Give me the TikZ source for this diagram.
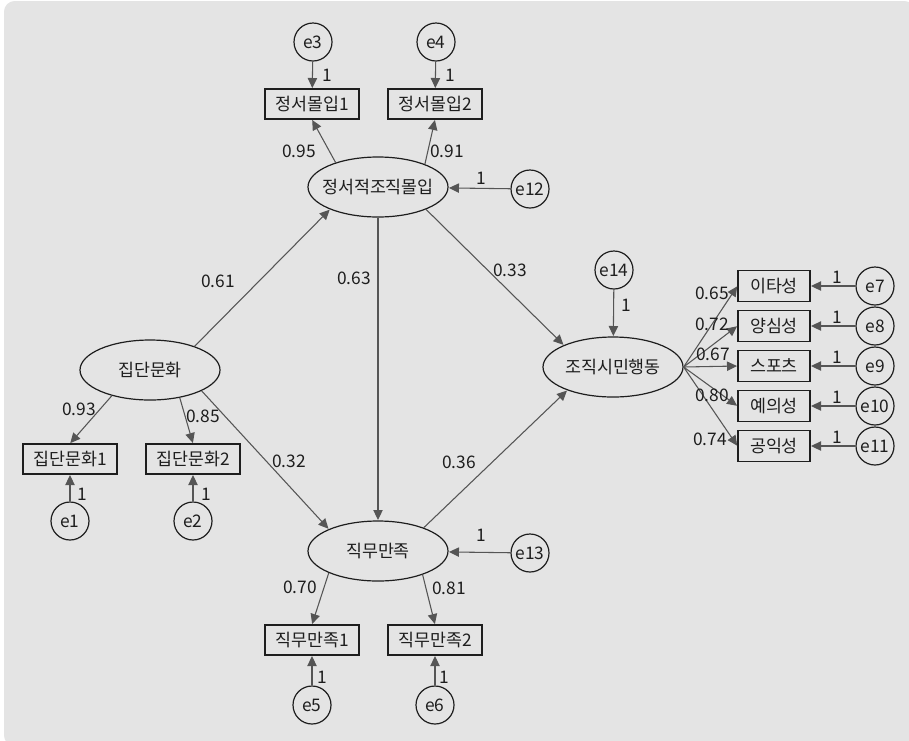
\documentclass[tikz,border=0pt]{standalone}
\usepackage{fontspec}
\setmainfont{Noto Sans CJK KR}
\usetikzlibrary{arrows.meta,shapes.geometric}
\definecolor{bg}{HTML}{E4E4E4}
\definecolor{ln}{HTML}{555555}
\definecolor{tx}{HTML}{1E1E1E}
\newcommand{\zb}[1]{\makebox[0pt][c]{#1}}
\begin{document}
\begin{tikzpicture}[x=0.75pt,y=-0.75pt,
  font=\fontsize{13}{15}\selectfont, text=tx,
  lat/.style={ellipse,draw=tx,line width=0.9pt,minimum width=105pt,minimum height=45pt,inner sep=0pt},
  obs/.style={rectangle,draw=tx,line width=0.9pt,minimum width=70.5pt,minimum height=22.5pt,inner sep=0pt},
  obsr/.style={rectangle,draw=tx,line width=0.9pt,minimum width=54pt,minimum height=23pt,inner sep=0pt},
  err/.style={circle,draw=tx,line width=0.9pt,minimum size=28.5pt,inner sep=0pt},
  arr/.style={draw=ln,line width=0.8pt,-{Triangle[length=7.5pt,width=7pt]},shorten >=0.3pt},
  lbl/.style={inner sep=0pt}]
\useasboundingbox (0,0) rectangle (909,740);
\fill[bg,rounded corners=8pt] (4,1) rectangle (915,746);

% latent
\node[lat] (emo) at (378,187) {\zb{정서적조직몰입}};
\node[lat] (grp) at (150,370) {\zb{집단문화}};
\node[lat] (job) at (378,551) {\zb{직무만족}};
\node[lat] (ocb) at (613,367) {\zb{조직시민행동}};

% observed
\node[obs] (m1) at (312,104) {정서몰입1};
\node[obs] (m2) at (435,104) {정서몰입2};
\node[obs] (g1) at (70,459) {집단문화1};
\node[obs] (g2) at (193,459) {집단문화2};
\node[obs] (j1) at (312,640) {직무만족1};
\node[obs] (j2) at (435,640) {직무만족2};
\node[obsr] (o1) at (774,286) {이타성};
\node[obsr] (o2) at (774,326) {양심성};
\node[obsr] (o3) at (774,366) {스포츠};
\node[obsr] (o4) at (774,406) {예의성};
\node[obsr] (o5) at (774,446) {공익성};

% errors
\node[err] (e3) at (313,42) {e3};
\node[err] (e4) at (436,42) {e4};
\node[err] (e1) at (70,521) {e1};
\node[err] (e2) at (193,521) {e2};
\node[err] (e5) at (312,705) {e5};
\node[err] (e6) at (435,705) {e6};
\node[err] (e12) at (530,189) {e12};
\node[err] (e13) at (530,553) {e13};
\node[err] (e14) at (614,270) {e14};
\node[err] (e7) at (875,286) {e7};
\node[err] (e8) at (875,326) {e8};
\node[err] (e9) at (875,366) {e9};
\node[err] (e10) at (875,406) {e10};
\node[err] (e11) at (875,446) {e11};

% error arrows
\draw[arr] (e3) -- (m1);
\draw[arr] (e4) -- (m2);
\draw[arr] (e1) -- (g1);
\draw[arr] (e2) -- (g2);
\draw[arr] (e5) -- (j1);
\draw[arr] (e6) -- (j2);
\draw[arr] (e12) -- (emo);
\draw[arr] (e13) -- (job);
\draw[arr] (e14) -- (ocb);
\draw[arr] (e7) -- (o1);
\draw[arr] (e8) -- (o2);
\draw[arr] (e9) -- (o3);
\draw[arr] (e10) -- (o4);
\draw[arr] (e11) -- (o5);

% loadings
\draw[arr] (emo.150) -- (m1.south);
\draw[arr] (emo.26) -- (m2.south);
\draw[arr] (grp.214) -- (g1.north);
\draw[arr] (grp.317) -- (g2.north);
\draw[arr] (job.204) -- (j1.north);
\draw[arr] (job.332) -- (j2.north);
\draw[arr] (ocb.east) -- (o1.west);
\draw[arr] (ocb.east) -- (o2.west);
\draw[arr] (ocb.east) -- (o3.west);
\draw[arr] (ocb.east) -- (o4.west);
\draw[arr] (ocb.east) -- (o5.west);

% structural
\draw[arr] (grp.28) -- (emo.205);
\draw[arr] (grp.338) -- (job.156);
\draw[arr] (emo) -- (job);
\draw[arr] (emo.335) -- (ocb.156);
\draw[arr] (job.27) -- (ocb.207);

% labels
\node[lbl] at (327,75) {1};
\node[lbl] at (450,75) {1};
\node[lbl] at (82,494) {1};
\node[lbl] at (206,494) {1};
\node[lbl] at (322,677) {1};
\node[lbl] at (444,677) {1};
\node[lbl] at (481,178) {1};
\node[lbl] at (481,535) {1};
\node[lbl] at (626,305) {1};
\foreach \y in {277,317,357,397,437} \node[lbl] at (837,\y) {1};

\node[lbl] at (299,151) {0.95};
\node[lbl] at (447,151) {0.91};
\node[lbl] at (79,409) {0.93};
\node[lbl] at (203,416) {0.85};
\node[lbl] at (300,587) {0.70};
\node[lbl] at (449,588) {0.81};
\node[lbl] at (712,293) {0.65};
\node[lbl] at (712,324) {0.72};
\node[lbl] at (713,354) {0.67};
\node[lbl] at (712,395) {0.80};
\node[lbl] at (710,439) {0.74};
\node[lbl] at (218,281) {0.61};
\node[lbl] at (354,278) {0.63};
\node[lbl] at (510,270) {0.33};
\node[lbl] at (289,461) {0.32};
\node[lbl] at (459,462) {0.36};
\end{tikzpicture}
\end{document}
